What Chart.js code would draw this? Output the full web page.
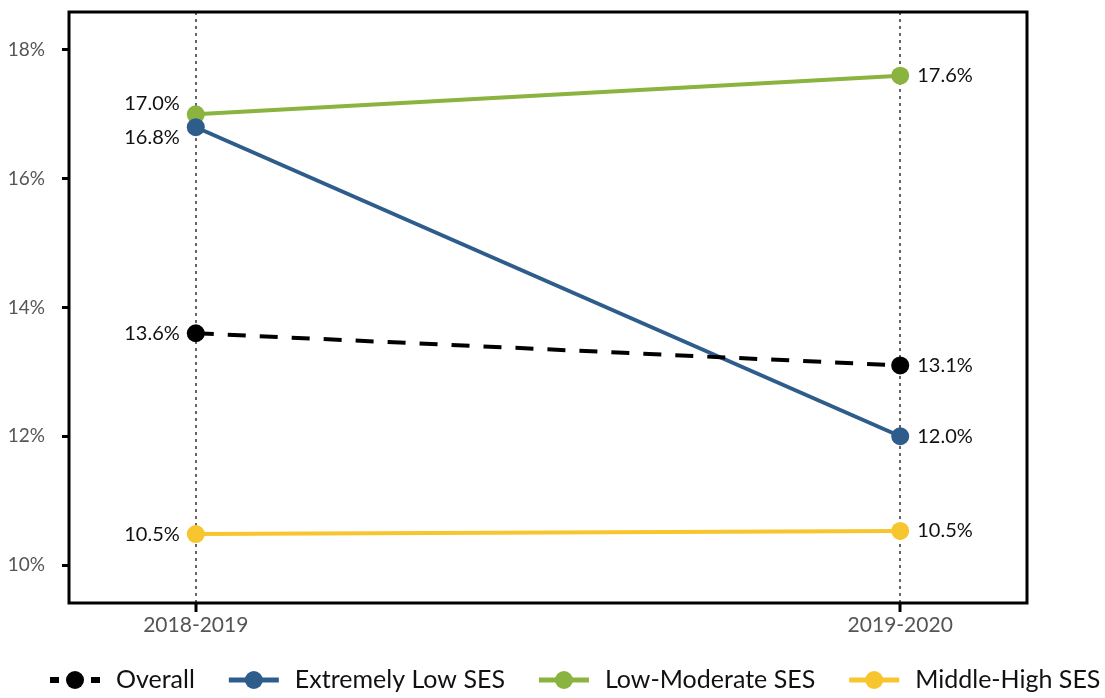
<!DOCTYPE html>
<html>
<head>
<meta charset="utf-8">
<script src="https://cdn.jsdelivr.net/npm/chart.js@4"></script>
<style>
  html, body { margin: 0; padding: 0; background: #fff; }
  #wrap { width: 1105px; height: 698px; }
</style>
</head>
<body>
<div id="wrap"><canvas id="grafico"></canvas></div>
<script>
// ==================== DATOS ====================
const categorias = ['2018-2019', '2019-2020'];
const series = ['Overall', 'Extremely Low SES', 'Low-Moderate SES', 'Middle-High SES'];
const valoresOverall = [13.6, 13.1];
const valoresExtremo = [16.8, 12.0];
const valoresModerado = [17.0, 17.6];
const valoresAlto = [10.48, 10.53];
const ticksY = [10, 12, 14, 16, 18];

const colores = ['#000000', '#2e5d8c', '#8ab33f', '#f7c52e'];
const fuente = "Lato, 'Open Sans', sans-serif";

const listas = [valoresOverall, valoresExtremo, valoresModerado, valoresAlto];
const datasets = listas.map((vals, i) => ({
    label: series[i],
    data: vals.map((v, j) => ({ x: j, y: v })),
    borderColor: colores[i],
    backgroundColor: colores[i],
    borderWidth: 4,
    borderDash: i === 0 ? [18, 14] : [],
    pointRadius: 9,
    pointHoverRadius: 9,
    pointBorderWidth: 0,
    tension: 0
}));

// ==================== PLUGINS ====================
const marcoPlugin = {
    id: 'marco',
    afterDraw(chart) {
        const a = chart.chartArea;
        const ctx = chart.ctx;
        ctx.save();
        ctx.strokeStyle = '#000';
        ctx.lineWidth = 3;
        ctx.strokeRect(a.left, a.top, a.right - a.left, a.bottom - a.top);
        ctx.restore();
    }
};

const etiquetasPlugin = {
    id: 'etiquetas',
    afterDatasetsDraw(chart) {
        const ctx = chart.ctx;
        ctx.save();
        ctx.font = '20px ' + fuente;
        ctx.fillStyle = '#111';
        ctx.textBaseline = 'middle';
        for (let j = 0; j < categorias.length; j++) {
            // separar etiquetas que se tocan
            let items = chart.data.datasets.map((ds, i) => {
                const p = chart.getDatasetMeta(i).data[j];
                return { x: p.x, y: p.y, ly: p.y, v: listas[i][j] };
            });
            items.sort((a, b) => a.y - b.y);
            for (let k = 1; k < items.length; k++) {
                const d = items[k].ly - items[k - 1].ly;
                if (d < 34) {
                    const ajuste = (34 - d) / 2;
                    items[k - 1].ly -= ajuste;
                    items[k].ly += ajuste;
                }
            }
            items.forEach(it => {
                const txt = it.v.toFixed(1) + '%';
                if (j === 0) {
                    ctx.textAlign = 'right';
                    ctx.fillText(txt, it.x - 16, it.ly);
                } else {
                    ctx.textAlign = 'left';
                    ctx.fillText(txt, it.x + 17, it.ly);
                }
            });
        }
        ctx.restore();
    }
};

// leyenda propia: linea + punto + texto
const leyendaPlugin = {
    id: 'leyenda',
    afterDraw(chart) {
        const ctx = chart.ctx;
        const y = 680;
        let x = 50;
        ctx.save();
        ctx.font = '25px ' + fuente;
        ctx.textBaseline = 'middle';
        ctx.textAlign = 'left';
        series.forEach((nombre, i) => {
            ctx.strokeStyle = colores[i];
            ctx.fillStyle = colores[i];
            ctx.lineWidth = i === 0 ? 6 : 5;
            ctx.beginPath();
            if (i === 0) {
                ctx.moveTo(x, y); ctx.lineTo(x + 9, y);
                ctx.moveTo(x + 41, y); ctx.lineTo(x + 50, y);
            } else {
                ctx.moveTo(x, y); ctx.lineTo(x + 50, y);
            }
            ctx.stroke();
            ctx.beginPath();
            ctx.arc(x + 25, y, 9, 0, Math.PI * 2);
            ctx.fill();
            ctx.fillStyle = '#111';
            ctx.fillText(nombre, x + 66, y);
            x += 66 + ctx.measureText(nombre).width + 34;
        });
        ctx.restore();
    }
};

// ==================== GRAFICO ====================
new Chart(document.getElementById('grafico'), {
    type: 'line',
    data: { datasets: datasets },
    options: {
        responsive: true,
        maintainAspectRatio: false,
        animation: false,
        layout: { padding: { left: 0, right: 78, top: 12, bottom: 52 } },
        plugins: {
            tooltip: { enabled: false },
            legend: { display: false }
        },
        scales: {
            x: {
                type: 'linear',
                min: -0.18,
                max: 1.18,
                afterBuildTicks(scale) {
                    scale.ticks = categorias.map((c, i) => ({ value: i }));
                },
                afterFit(scale) {
                    scale.height = 43;
                    scale.paddingLeft = 0;
                    scale.paddingRight = 0;
                },
                ticks: {
                    callback: (v) => categorias[v],
                    color: '#555',
                    font: { family: fuente, size: 21 },
                    padding: 1,
                    autoSkip: false,
                    maxRotation: 0
                },
                grid: {
                    color: '#666',
                    lineWidth: 2,
                    tickColor: '#000',
                    tickLength: 9,
                    tickWidth: 3,
                    tickBorderDash: []
                },
                border: { display: false, dash: [3, 4] }
            },
            y: {
                min: 9.41,
                max: 18.59,
                afterBuildTicks(scale) {
                    scale.ticks = ticksY.map(v => ({ value: v }));
                },
                afterFit(scale) {
                    scale.width = 69;
                    scale.paddingTop = 0;
                    scale.paddingBottom = 0;
                },
                ticks: {
                    callback: (v) => v + '%',
                    color: '#555',
                    font: { family: fuente, size: 19 },
                    padding: 17
                },
                grid: {
                    drawOnChartArea: false,
                    tickColor: '#000',
                    tickLength: 7,
                    tickWidth: 3
                },
                border: { display: false }
            }
        }
    },
    plugins: [marcoPlugin, etiquetasPlugin, leyendaPlugin]
});
</script>
</body>
</html>
